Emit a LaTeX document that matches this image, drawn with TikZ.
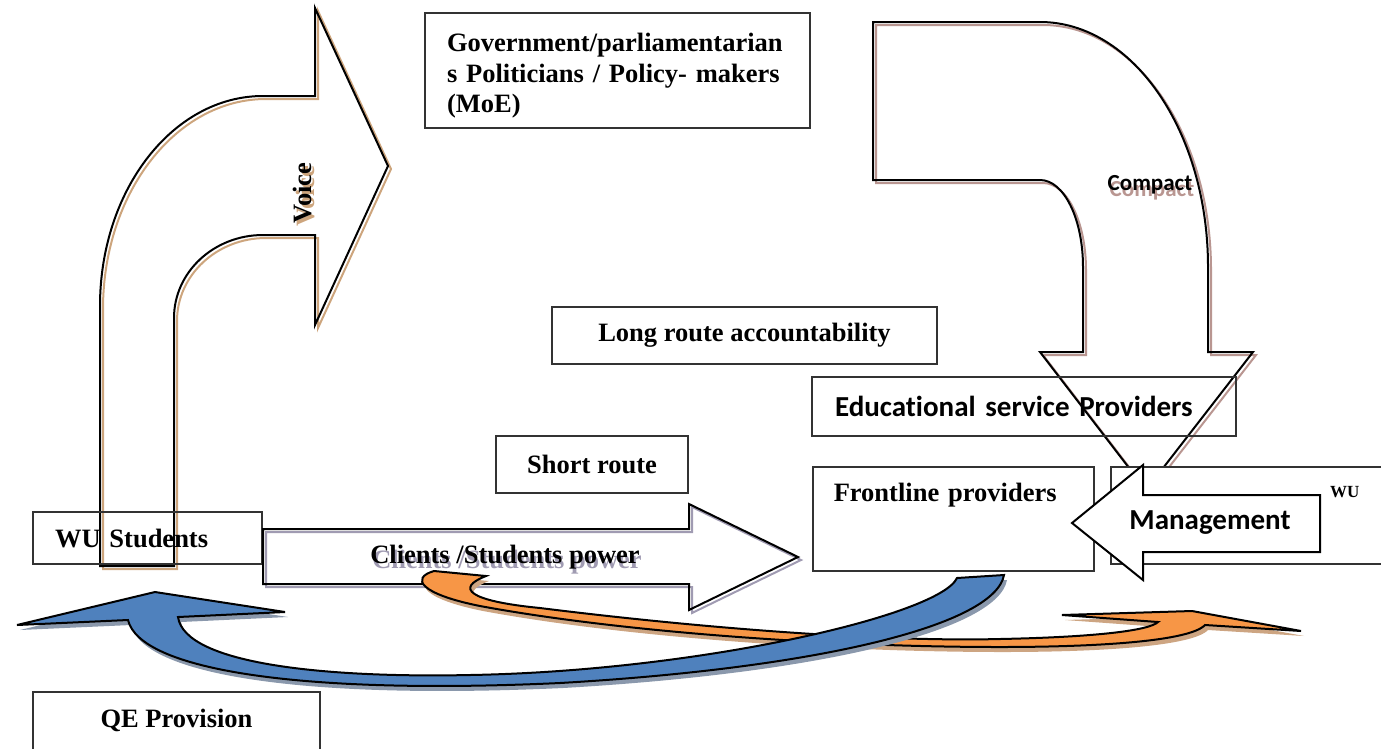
\documentclass[tikz,border=0pt]{standalone}
\usepackage{fontspec}
\setmainfont{Liberation Serif}
\newfontfamily\calibri[Ligatures=NoCommon]{Carlito}
\usepackage{tikz}
\usetikzlibrary{positioning}

\definecolor{qeblue}{RGB}{79,129,189}
\definecolor{qeorange}{RGB}{247,150,70}
\definecolor{voiceshade}{RGB}{205,165,125}
\definecolor{powershade}{RGB}{160,155,178}
\definecolor{compactshade}{RGB}{185,150,145}
\definecolor{blueshade}{RGB}{138,152,172}
\definecolor{orangeshade}{RGB}{205,165,130}

\begin{document}
\begin{tikzpicture}[x=1pt,y=-1pt,
  box/.style={draw=black!80,line width=1.5pt,inner sep=0pt},
  bigarrow/.style={draw=black,line width=2pt},
  shade/.style={preaction={draw=#1,line width=2pt,transform canvas={shift={(3pt,-3pt)}}}},
  fillshade/.style={preaction={fill=#1,transform canvas={shift={(3pt,-5pt)}}}},
  lbl/.style={font=\fontsize{26.5}{30.5}\selectfont\bfseries,inner sep=0pt},
  slbl/.style={font=\fontsize{29}{33}\selectfont\calibri\bfseries,inner sep=0pt}]
  \useasboundingbox (0,0) rectangle (1381,748);
  \clip (0,0) rectangle (1381,748);

  % voice: bent arrow from the students up to government
  \draw[bigarrow,shade=voiceshade] (100,566) -- (100,306) .. controls (100,190) and (173,96) .. (263,96)
    -- (315,96) -- (315,8) -- (388,166) -- (315,325) -- (315,235) -- (263,235)
    .. controls (214,235) and (174,272) .. (174,318) -- (174,566) -- cycle;
  \node[lbl,rotate=90,text=voiceshade] (voiceshadow) at (306,196) {Voice};
  \node[lbl,rotate=90] (voice) at (303,193) {Voice};

  \node[box,lbl,inner xsep=22pt,text width=185pt,minimum height=52pt,align=left] (students) at (147.5,538) {WU Students};

  \node[box,lbl,inner xsep=22pt,text width=341pt,text height=32pt,text depth=69pt,inner ysep=7pt,align=left,anchor=north]
    (gov) at (617.5,12) {Government/parliamentarian\\s Politicians / Policy- makers\\(MoE)};
  \node[box,lbl,minimum width=385pt,minimum height=57pt] (longroute) at (744.5,335.5) {Long route accountability};
  \node[box,lbl,minimum width=192pt,minimum height=57pt] (shortroute) at (592,464.5) {Short route};

  % clients power
  \draw[bigarrow,shade=powershade] (263,529) -- (689,529) -- (689,504) -- (798,557) -- (689,610) -- (689,584) -- (263,584) -- cycle;
  \node[lbl,text=powershade] (powershadow) at (507,562) {Clients /Students power};
  \node[lbl] (power) at (505,557) {Clients /Students power};

  % compact: from government down to the providers
  \draw[bigarrow,shade=compactshade] (873,22) -- (1040,22) .. controls (1133,22) and (1208,132) .. (1208,267)
    -- (1208,352) -- (1253,352) -- (1146,490) -- (1040,352) -- (1083,352) -- (1083,267)
    .. controls (1083,219) and (1064,180) .. (1040,180) -- (873,180) -- cycle;
  \node[slbl,font=\fontsize{23}{27}\selectfont\calibri\bfseries,text=compactshade] (compactshadow) at (1152,191) {Compact};
  \node[slbl,font=\fontsize{23}{27}\selectfont\calibri\bfseries] (compact) at (1150,185) {Compact};

  \node[box,slbl,inner xsep=23pt,text width=378pt,minimum height=59pt,align=left] (edu) at (1024,406.5) {Educational service Providers};
  \node[box,lbl,anchor=north west,inner xsep=21pt,inner ysep=16pt,text width=239pt,text height=19pt,text depth=53pt,align=left]
    (front) at (812,466) {Frontline providers};

  % management side
  \node[box,fill=white,anchor=north west,minimum width=285pt,minimum height=97pt] (wubox) at (1110,466) {};
  \node[font=\fontsize{17}{20}\selectfont\bfseries,inner sep=0pt,anchor=base west] (wu) at (1330,497) {WU};
  \draw[bigarrow,fill=white] (1320,495) -- (1143,495) -- (1143,465) -- (1072,523) -- (1143,580) -- (1143,552) -- (1320,552) -- cycle;
  \node[slbl] (mgmt) at (1210,523) {Management};

  % curved arrows underneath
  \draw[bigarrow,fill=qeorange,fillshade=orangeshade] (434,571) -- (486,576) .. controls (455,588) and (468,601) .. (540,608)
    .. controls (700,628) and (880,642) .. (1000,639) .. controls (1100,637) and (1150,630) .. (1158,622)
    -- (1062,615) -- (1192,611) -- (1301,631) -- (1205,625)
    .. controls (1190,641) and (1100,647) .. (1000,647) .. controls (830,647) and (620,632) .. (480,606)
    .. controls (420,594) and (410,578) .. (434,571) -- cycle;
  \draw[bigarrow,fill=qeblue,fillshade=blueshade] (128,620) -- (17,625) -- (155,592) -- (285,612) -- (178,617)
    .. controls (185,665) and (330,678) .. (470,675) .. controls (700,671) and (940,615) .. (957,578)
    -- (1004,575) .. controls (995,625) and (820,668) .. (560,683) .. controls (300,695) and (140,670) .. (128,620) -- cycle;

  \node[box,lbl,anchor=north,minimum width=287pt,text height=19pt,text depth=40pt,inner ysep=17pt] (qe) at (176.5,691) {QE Provision};
\end{tikzpicture}
\end{document}
